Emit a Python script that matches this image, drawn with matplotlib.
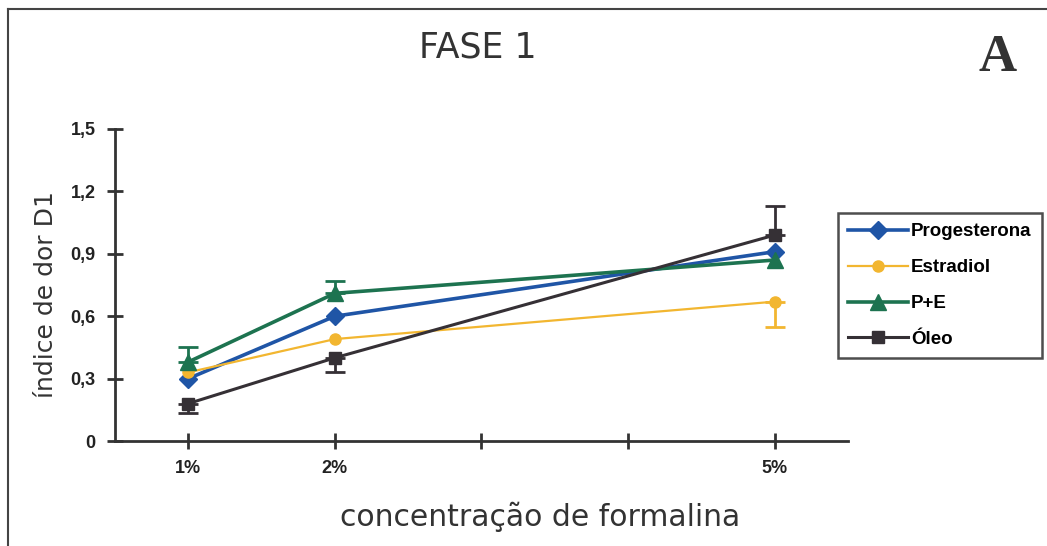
import numpy as np
import matplotlib
matplotlib.use('Agg')
import matplotlib.pyplot as plt
from matplotlib.lines import Line2D

# data
conc = [1, 2, 5]
tick_pos = [1, 2, 3, 4, 5]
tick_lab = ['1%', '2%', '', '', '5%']
yticks = [0, 0.3, 0.6, 0.9, 1.2, 1.5]
ytick_lab = ['0', '0,3', '0,6', '0,9', '1,2', '1,5']

progesterona = [0.30, 0.60, 0.91]
estradiol = [0.33, 0.49, 0.67]
pe = [0.38, 0.71, 0.87]
oleo = [0.18, 0.40, 0.99]

# one-sided error bars (down, up); 0 = no bar drawn
estradiol_err = [[0, 0, 0.12], [0, 0, 0]]
pe_err = [[0, 0, 0], [0.07, 0.06, 0]]
oleo_err = [[0.045, 0.07, 0], [0, 0, 0.14]]

names = ['Progesterona', 'Estradiol', 'P+E', 'Óleo']
colors = ['#1f55a6', '#f2b630', '#1d7350', '#353035']
markers = ['D', 'o', '^', 's']
msizes = [9, 8, 11, 9]
lws = [2.6, 1.6, 2.6, 2.2]

fig = plt.figure(figsize=(10.47, 5.46), dpi=100)
ax = fig.add_axes([115/1047, 1-441/546, 733/1047, 312/546])

series = [progesterona, estradiol, pe, oleo]
errs = [None, estradiol_err, pe_err, oleo_err]
for i in range(len(series)):
    ax.plot(conc, series[i], color=colors[i], marker=markers[i],
            markersize=msizes[i], lw=lws[i], label=names[i], zorder=3)
    if errs[i] is None:
        continue
    # only draw the bars that exist
    for j in range(len(conc)):
        lo, hi = errs[i][0][j], errs[i][1][j]
        if lo == 0 and hi == 0:
            continue
        ax.errorbar([conc[j]], [series[i][j]], yerr=[[lo], [hi]], fmt='none',
                    ecolor=colors[i], elinewidth=2, capsize=7, capthick=2, zorder=2)

ax.set_xlim(0.5, 5.5)
ax.set_ylim(0, 1.5)
ax.set_xticks(tick_pos)
ax.set_xticklabels(tick_lab)
ax.set_yticks(yticks)
ax.set_yticklabels(ytick_lab)
for s in ['top', 'right']:
    ax.spines[s].set_visible(False)
for s in ['left', 'bottom']:
    ax.spines[s].set_linewidth(2)
    ax.spines[s].set_color('#333333')
ax.tick_params(direction='inout', length=12, width=2, color='#333333', pad=8)
for lab in ax.get_xticklabels() + ax.get_yticklabels():
    lab.set_fontfamily('Liberation Sans')
    lab.set_fontweight('bold')
    lab.set_fontsize(13)
    lab.set_color('#222222')

ax.set_ylabel('índice de dor D1', fontsize=18, color='#333333')
ax.yaxis.set_label_coords(-(115 - 58) / 733, 0.47)
ax.set_xlabel('concentração de formalina', fontsize=21.5, color='#333333')
ax.xaxis.set_label_coords((540 - 115) / 733, -(517 - 441) / 312)
ax.xaxis.label.set_va('center')

leg = fig.legend(loc='upper left', bbox_to_anchor=(838/1047, 1-213/546),
                 frameon=True, fancybox=False, handlelength=3.2, labelspacing=1.0,
                 handletextpad=0.15, borderpad=0.55, borderaxespad=0,
                 prop={'family': 'Liberation Sans', 'weight': 'bold', 'size': 13.5})
leg.get_frame().set_edgecolor('#222222')
leg.get_frame().set_linewidth(1.8)

fig.text(478/1047, 1-48/546, 'FASE 1', fontsize=25, ha='center', va='center', color='#333333')
fig.text(998/1047, 1-58/546, 'A', fontsize=38, ha='center', va='center',
         fontfamily='Liberation Serif', fontweight='bold', color='#333333')

# outer frame (top and left edges)
fig.add_artist(Line2D([8/1047, 1], [1-9/546, 1-9/546], color='#444444', lw=1.5))
fig.add_artist(Line2D([8/1047, 8/1047], [0, 1-9/546], color='#444444', lw=1.5))

fig.savefig('out.png', dpi=100)
